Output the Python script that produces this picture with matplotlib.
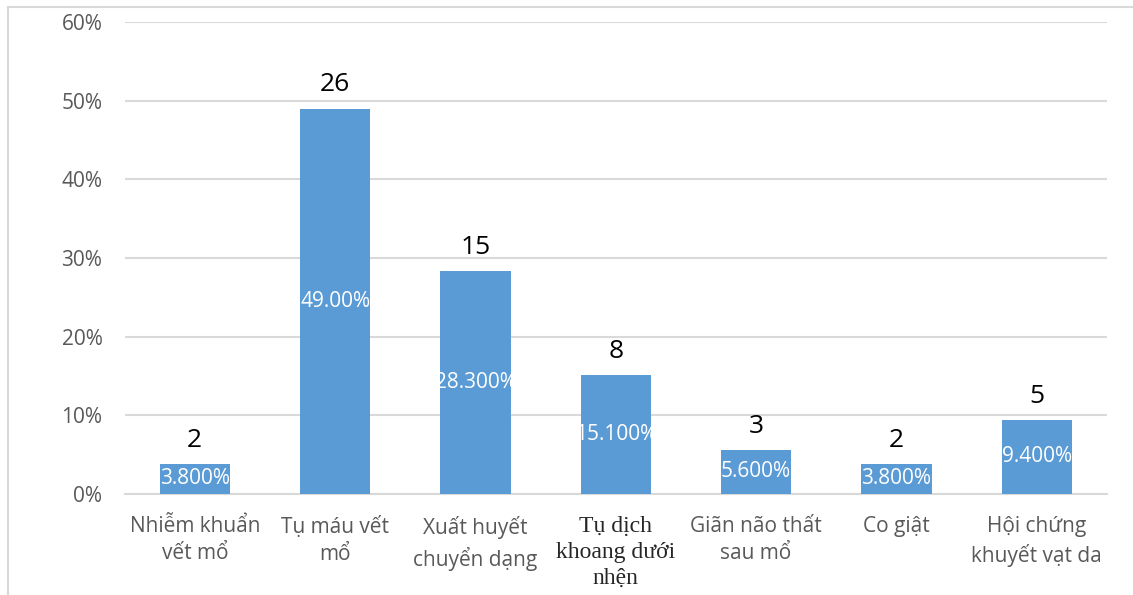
import matplotlib
matplotlib.use("Agg")
import matplotlib.pyplot as plt
import matplotlib.patches as mpatches
import numpy as np

# data
categories = ["Nhiễm khuẩn\nvết mổ", "Tụ máu vết\nmổ", "Xuất huyết\nchuyển dạng",
              "Tụ dịch\nkhoang dưới\nnhện", "Giãn não thất\nsau mổ", "Co giật",
              "Hội chứng\nkhuyết vạt da"]
percents = [3.8, 49.0, 28.3, 15.1, 5.6, 3.8, 9.4]
counts = [2, 26, 15, 8, 3, 2, 5]
pct_labels = ["3.800%", "49.00%", "28.300%", "15.100%", "5.600%", "3.800%", "9.400%"]
yticks = [0, 10, 20, 30, 40, 50, 60]

bar_color = "#5b9bd5"
grid_color = "#d9d9d9"
text_gray = "#595959"
sans = ["Open Sans", "DejaVu Sans"]

fig = plt.figure(figsize=(11.33, 5.95), dpi=100)
ax = fig.add_axes([0.110, 0.170, 0.867, 0.793])

x = np.arange(len(categories))
bars = ax.bar(x, percents, width=0.5, color=bar_color, zorder=3)

ax.set_xlim(-0.5, len(categories) - 0.5)
ax.set_ylim(0, 60)
ax.set_yticks(yticks)
ax.set_yticklabels([f"{t}%" for t in yticks], fontsize=15, color=text_gray, family=sans)
ax.yaxis.grid(True, color=grid_color, linewidth=1.5, zorder=0)
ax.tick_params(axis="y", length=0, pad=16)
ax.tick_params(axis="x", length=0)
for s in ["top", "right", "left"]:
    ax.spines[s].set_visible(False)
ax.spines["bottom"].set_color(grid_color)
ax.spines["bottom"].set_linewidth(1.5)

ax.set_xticks(x)
ax.set_xticklabels([])
for i, lab in enumerate(categories):
    if lab.startswith("Tụ dịch"):
        ax.annotate(lab, (i, 0), xytext=(0, -16), textcoords="offset points",
                    ha="center", va="top", fontsize=17, color="#262626",
                    family=["Liberation Serif", "DejaVu Serif"], linespacing=1.3)
    else:
        ax.annotate(lab, (i, 0), xytext=(0, -16), textcoords="offset points",
                    ha="center", va="top", fontsize=15, color=text_gray,
                    family=sans, linespacing=1.4)

# counts above bars, percentages inside (clipped to the bar like the original)
for b, c, p in zip(bars, counts, pct_labels):
    cx = b.get_x() + b.get_width() / 2
    h = b.get_height()
    ax.annotate(str(c), (cx, h), xytext=(0, 8), textcoords="offset points",
                ha="center", va="bottom", fontsize=19, color="black", family=sans, zorder=4)
    t = ax.text(cx, h / 2, p, ha="center", va="center", fontsize=15,
                color="white", family=sans, zorder=4)
    t.set_clip_path(b)

# outer chart frame (only top and left edges show in the crop)
fig.patches.append(mpatches.Rectangle((8 / 1133, -0.05), 1.1, 1 - 7 / 595 + 0.05,
                                      transform=fig.transFigure, fill=False,
                                      edgecolor=grid_color, linewidth=1.5))

fig.savefig("out.png", dpi=100)
